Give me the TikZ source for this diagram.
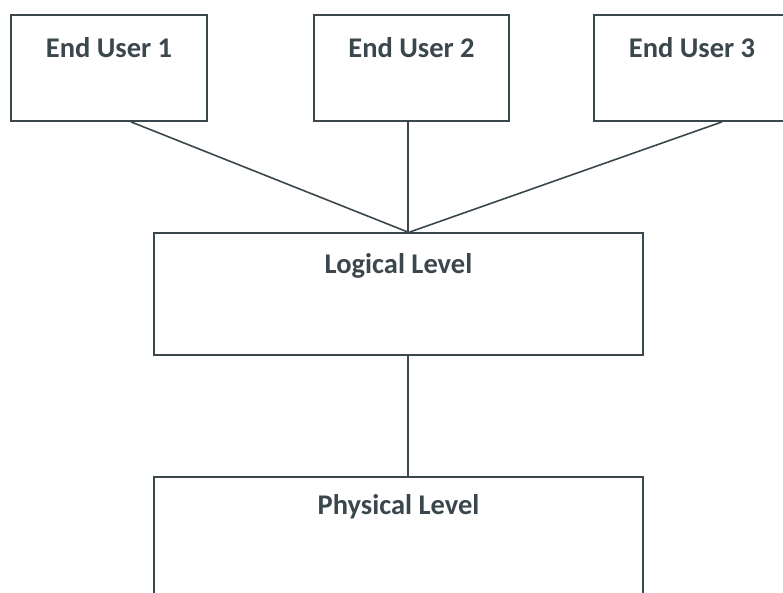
\documentclass[tikz,border=0pt]{standalone}
\usepackage{fontspec}
\setmainfont{Carlito}
\definecolor{ink}{HTML}{3A474C}
\begin{document}
\begin{tikzpicture}[x=1pt,y=-1pt,
  box/.style={draw=ink,line width=1.8pt,rectangle,inner sep=0pt},
  lbl/.style={text=ink,font=\bfseries\fontsize{28.5}{32}\selectfont,inner sep=0pt,anchor=center},
  conn/.style={draw=ink,line width=1.6pt}]
\useasboundingbox (0,0) rectangle (783,592);
\clip (0,0) rectangle (783,592);
\fill[white] (0,0) rectangle (783,592);
\node[box,minimum width=196pt,minimum height=106pt] (eu1) at (109,68) {};
\node[box,minimum width=195pt,minimum height=106pt] (eu2) at (411.5,68) {};
\node[box,minimum width=196pt,minimum height=106pt] (eu3) at (692,68) {};
\node[box,minimum width=489pt,minimum height=122pt] (ll) at (398.5,294) {};
\node[box,minimum width=489pt,minimum height=160pt] (pl) at (398.5,557) {};
\node[lbl] (t1) at (109,48) {End User 1};
\node[lbl] (t2) at (411.5,48) {End User 2};
\node[lbl] (t3) at (692,48) {End User 3};
\node[lbl] (tl) at (398.5,266) {Logical Level};
\node[lbl] (tp) at (398.5,507) {Physical Level};
\draw[conn] ([xshift=22pt]eu1.south) -- ([xshift=9.5pt]ll.north);
\draw[conn] ([xshift=-3.5pt]eu2.south) -- ([xshift=9.5pt]ll.north);
\draw[conn] ([xshift=30pt]eu3.south) -- ([xshift=11pt]ll.north);
\draw[conn] ([xshift=9.5pt]ll.south) -- ([xshift=9.5pt]pl.north);
\end{tikzpicture}
\end{document}
